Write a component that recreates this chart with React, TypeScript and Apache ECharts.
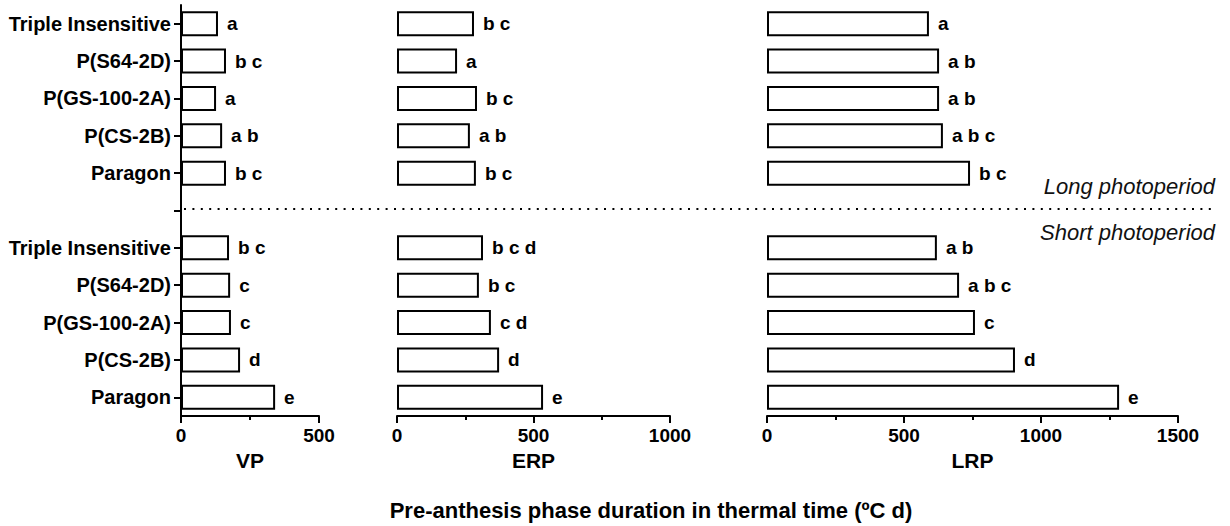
import React, { useEffect, useRef } from "react";
import * as echarts from "echarts";

const cultivars = ["Triple Insensitive", "P(S64-2D)", "P(GS-100-2A)", "P(CS-2B)", "Paragon"];
const rows = [...cultivars.map((c) => "Long|" + c), "gap|", ...cultivars.map((c) => "Short|" + c)];

const panels = ["VP", "ERP", "LRP"];
const axisMax = [500, 1000, 1500];

const vpLong = [134, 163, 127, 149, 163];
const vpShort = [174, 178, 181, 214, 341];
const erpLong = [282, 220, 293, 267, 289];
const erpShort = [315, 300, 344, 374, 535];
const lrpLong = [591, 628, 628, 642, 741];
const lrpShort = [620, 701, 759, 905, 1285];

const vpLongLetters = ["a", "b c", "a", "a b", "b c"];
const vpShortLetters = ["b c", "c", "c", "d", "e"];
const erpLongLetters = ["b c", "a", "b c", "a b", "b c"];
const erpShortLetters = ["b c d", "b c", "c d", "d", "e"];
const lrpLongLetters = ["a", "a b", "a b", "a b c", "b c"];
const lrpShortLetters = ["a b", "a b c", "c", "d", "e"];

const xTitle = "Pre-anthesis phase duration in thermal time (ºC d)";
const longText = "Long photoperiod";
const shortText = "Short photoperiod";

const FONT = "'Liberation Sans', Arial, Helvetica, sans-serif";

export default function App() {
  const ref = useRef<HTMLDivElement>(null);
  useEffect(() => {
    if (!ref.current) return;
    const chart = echarts.init(ref.current, undefined, { renderer: "svg" });
    const values = [
      [...vpLong, null, ...vpShort],
      [...erpLong, null, ...erpShort],
      [...lrpLong, null, ...lrpShort],
    ];
    const letters = [
      [...vpLongLetters, "", ...vpShortLetters],
      [...erpLongLetters, "", ...erpShortLetters],
      [...lrpLongLetters, "", ...lrpShortLetters],
    ];
    const grids = [
      { left: 181, width: 138, top: 5, height: 411 },
      { left: 397, width: 273, top: 5, height: 411 },
      { left: 767, width: 411, top: 5, height: 411 },
    ];
    const option: any = {
      animation: false,
      backgroundColor: "#ffffff",
      grid: grids,
      xAxis: panels.map((p, i) => ({
        type: "value",
        gridIndex: i,
        min: 0,
        max: axisMax[i],
        interval: 500,
        name: p,
        nameLocation: "middle",
        nameGap: 29,
        nameTextStyle: { fontFamily: FONT, fontWeight: "bold", fontSize: 21, color: "#000" },
        axisLine: { show: true, lineStyle: { color: "#000", width: 2 } },
        axisTick: { show: true, length: 7, lineStyle: { color: "#000", width: 2 } },
        minorTick: { show: true, splitNumber: 2, length: 4, lineStyle: { color: "#000", width: 2 } },
        splitLine: { show: false },
        axisLabel: {
          fontFamily: FONT,
          fontWeight: "bold",
          fontSize: 19,
          color: "#000",
          margin: 10,
          formatter: (v: number) => String(v),
        },
      })),
      yAxis: panels.map((p, i) => ({
        type: "category",
        gridIndex: i,
        data: rows,
        inverse: true,
        show: i === 0,
        axisLine: { show: true, lineStyle: { color: "#000", width: 2 } },
        axisTick: { show: true, alignWithLabel: true, length: 7, lineStyle: { color: "#000", width: 2 } },
        axisLabel: {
          fontFamily: FONT,
          fontWeight: "bold",
          fontSize: 20,
          color: "#000",
          margin: 10,
          formatter: (v: string) => v.split("|")[1] || "",
        },
      })),
      series: panels.map((p, i) => ({
        type: "bar",
        name: p,
        xAxisIndex: i,
        yAxisIndex: i,
        data: values[i],
        barWidth: 25,
        itemStyle: { color: "#fff", borderColor: "#000", borderWidth: 2 },
        label: {
          show: true,
          position: "right",
          distance: 9,
          fontFamily: FONT,
          fontWeight: "bold",
          fontSize: 19,
          color: "#000",
          formatter: (prm: any) => letters[i][prm.dataIndex],
        },
      })),
      graphic: [
        {
          type: "line",
          shape: { x1: 184, y1: 209, x2: 1216, y2: 209 },
          style: { stroke: "#000", lineWidth: 2, lineDash: [2, 6.4] },
        },
        {
          type: "text",
          x: 1215,
          y: 186,
          style: {
            text: longText,
            font: `italic 22px ${FONT}`,
            fill: "#111",
            align: "right",
            verticalAlign: "middle",
          },
        },
        {
          type: "text",
          x: 1215,
          y: 232,
          style: {
            text: shortText,
            font: `italic 22px ${FONT}`,
            fill: "#111",
            align: "right",
            verticalAlign: "middle",
          },
        },
        {
          type: "text",
          x: 651,
          y: 510,
          style: {
            text: xTitle,
            font: `bold 22px ${FONT}`,
            fill: "#000",
            align: "center",
            verticalAlign: "middle",
          },
        },
      ],
    };
    chart.setOption(option);
    return () => chart.dispose();
  }, []);
  return (
    <div
      ref={ref}
      style={{ position: "fixed", left: 0, top: 0, width: 1230, height: 526 }}
    />
  );
}
